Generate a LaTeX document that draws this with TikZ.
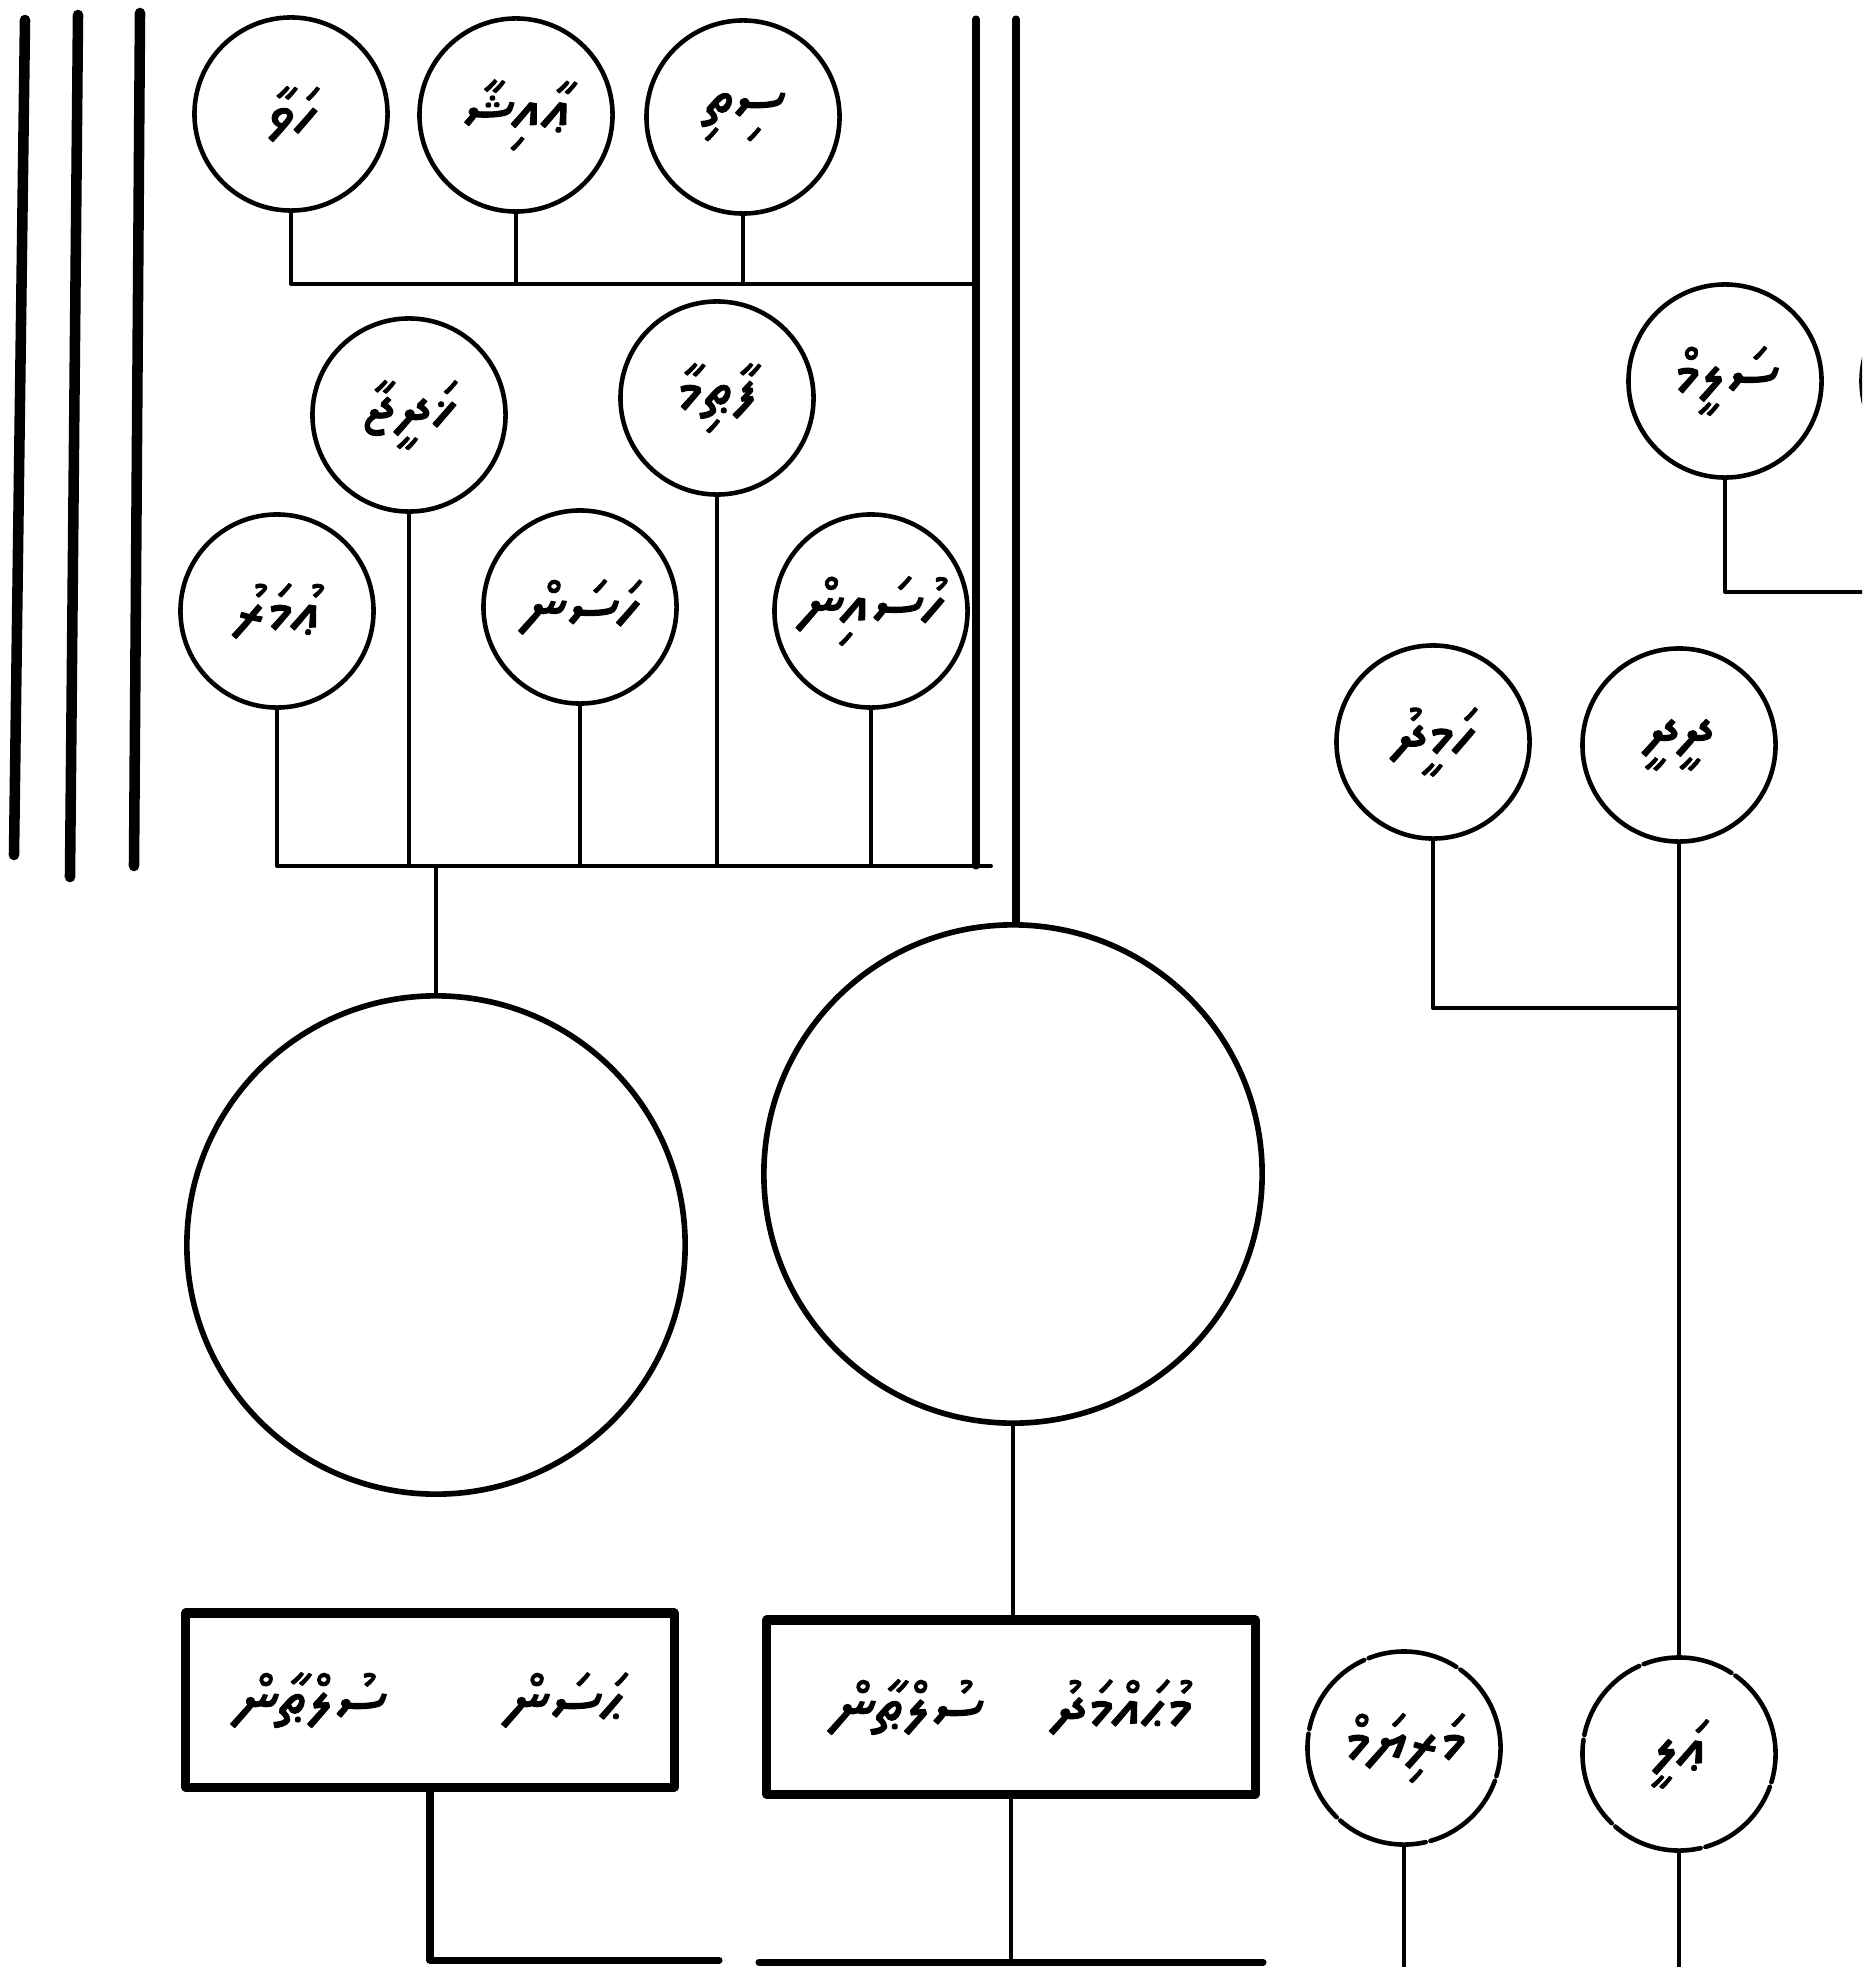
\documentclass[tikz,border=0pt]{standalone}
\usepackage{fontspec}
\newfontfamily\thaanafont[Script=Thaana, FakeBold=1.5]{Noto Sans Thaana}
\TeXXeTstate=1
\newcommand{\dhv}[1]{\beginR #1\endR}
\tikzset{
  persona/.style={circle, draw, line width=1.3pt, minimum size=1.93cm, inner sep=0pt,
    font=\thaanafont\fontsize{19}{22}\selectfont},
  spezzato/.style={dash pattern=on 26pt off 1.4pt},
  grande/.style={circle, draw, line width=1.6pt, minimum size=4.98cm, inner sep=0pt},
  sovrano/.style={rectangle, draw, line width=2.6pt, minimum width=4.88cm, minimum height=1.74cm,
    inner sep=0pt, font=\thaanafont\fontsize{19}{22}\selectfont},
  linea/.style={line width=1.1pt},
  asta/.style={line width=2pt},
  bordo/.style={line width=3pt},
}
\begin{document}
\begin{tikzpicture}[x=0.01cm, y=-0.01cm, line cap=round, line join=round]
    \useasboundingbox (0,0) rectangle (1862,1967);
    \fill[white] (0,0) rectangle (1862,1967);
    \clip (0,0) rectangle (1862,1967);

    % Bordo a sinistra
    \draw[bordo] (25,20) -- (14,855);
    \draw[bordo] (78,15) -- (70,877);
    \draw[bordo] (140,13) -- (134,866);

    % Cerchi in alto
    \node[persona] (c1) at (291,114) {\dhv{ހަވާ}};
    \node[persona] (c2) at (516,115) {\dhv{ޢާއިޝާ}};
    \node[persona] (c3) at (743,117) {\dhv{ސިތި}};
    \node[persona] (m1) at (409,415) {\dhv{ޚަދީޖާ}};
    \node[persona] (m2) at (717,398) {\dhv{ފާޠިމާ}};
    \node[persona] (l1) at (277,611) {\dhv{ޢުމަރު}};
    \node[persona] (l2) at (580,607) {\dhv{ހަސަން}};
    \node[persona] (l3) at (871,611) {\dhv{ހުސައިން}};

    % Cerchi grandi
    \node[grande] (b1) at (436,1245) {};
    \node[grande] (b2) at (1013,1174) {};

    % Sovrani
    \node[sovrano] (r1) at (430,1700) {\dhv{ޙަސަން\hspace{1.2cm}ސުލްޠާން}};
    \node[sovrano] (r2) at (1011,1707) {\dhv{މުޙައްމަދު\hspace{0.7cm}ސުލްޠާން}};

    % Cerchi a destra
    \node[persona] (rt) at (1725,381) {\dhv{ސަލީމް}};
    \node[persona] (c9) at (1958,381) {};
    \node[persona] (c5) at (1433,742) {\dhv{ހަމީދު}};
    \node[persona] (c6) at (1679,745) {\dhv{ދީދީ}};
    \node[persona, spezzato] (c7) at (1404,1748) {\dhv{މަރިޔަމް}};
    \node[persona, spezzato] (c8) at (1679,1754) {\dhv{ޢަލީ}};

    % Giunti
    \coordinate (giuntoA) at (976,284);
    \coordinate (giuntoB) at (991,866);
    \coordinate (giuntoC) at (1679,1008);
    \coordinate (cimaA) at (976,19);
    \coordinate (cimaB) at (1016,19);
    \coordinate (bordoD) at (1862,592);
    \coordinate (fondoA) at (719,1960);
    \coordinate (fondoB) at (759,1962);
    \coordinate (fondoC) at (1263,1962);
    \coordinate (fondoD) at (0,1967);

    % Linee della prima parte
    \draw[linea] (c1.south) |- (giuntoA);
    \foreach \n in {c2,c3}
        \draw[linea] (\n.south) -- (\n.south |- giuntoA);
    \draw[linea] (l1.south) |- (giuntoB);
    \foreach \n in {m1,l2,m2,l3}
        \draw[linea] (\n.south) -- (\n.south |- giuntoB);
    \draw[asta] (cimaA) -- (cimaA |- giuntoB);
    \draw[asta] (cimaB) -- (cimaB |- b2.north);
    \draw[linea] (b1.north) -- (b1.north |- giuntoB);
    \draw[linea] (b2.south) -- (b2.south |- r2.north);

    % Linee in basso
    \draw[asta] (r1.south) |- (fondoA);
    \draw[asta] (fondoB) -- (fondoC);
    \draw[linea] (r2.south) -- (r2.south |- fondoB);

    % Linee a destra
    \draw[linea] (rt.south) |- (bordoD);
    \draw[linea] (c5.south) |- (giuntoC);
    \draw[linea] (c6.south) -- (c8.north);
    \draw[linea] (c7.south) -- (c7.south |- fondoD);
    \draw[linea] (c8.south) -- (c8.south |- fondoD);
\end{tikzpicture}
\end{document}
